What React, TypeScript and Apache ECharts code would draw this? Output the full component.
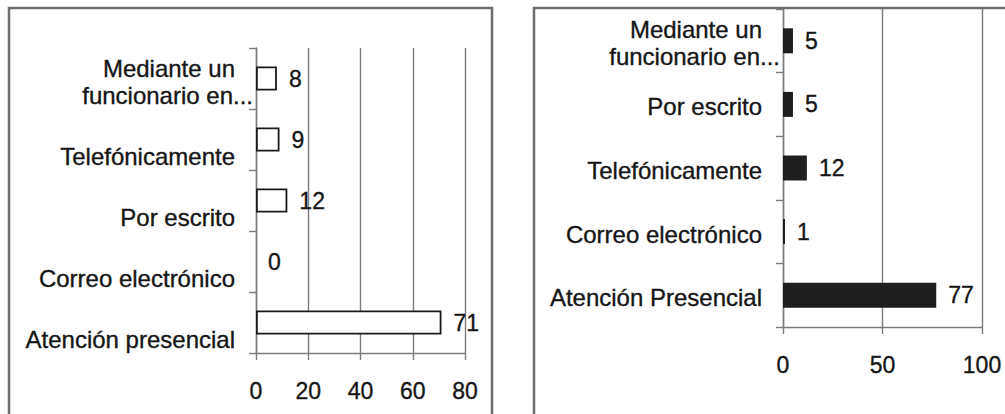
import React, { useEffect, useRef } from 'react';
import * as echarts from 'echarts';

const leftCategories = ['Mediante un\nfuncionario en...', 'Telefónicamente', 'Por escrito', 'Correo electrónico', 'Atención presencial'];
const leftValues = [8, 9, 12, 0, 71];
const leftMax = 80;
const leftInterval = 20;

const rightCategories = ['Mediante un\nfuncionario en...', 'Por escrito', 'Telefónicamente', 'Correo electrónico', 'Atención Presencial'];
const rightValues = [5, 5, 12, 1, 77];
const rightMax = 100;
const rightInterval = 50;

const FONT = '"Liberation Sans", Arial, sans-serif';
const TEXT = '#161616';
const GRID = '#7c7c7c';
const FS = 23;
const CFS = 24;
const HALO = { textBorderColor: TEXT, textBorderWidth: 0.35 };

const richStyles = {
  a: { fontSize: CFS, fontFamily: FONT, color: TEXT, lineHeight: 27, padding: [0, 18, 0, 0], ...HALO },
  b: { fontSize: CFS, fontFamily: FONT, color: TEXT, lineHeight: 27, ...HALO },
};

const catFormatter = (v: string) => {
  const lines = v.split('\n');
  return lines
    .map((line, i) => (lines.length > 1 && i === lines.length - 1 ? `{b|${line}}` : `{a|${line}}`))
    .join('\n');
};

const lineStyle = { color: GRID, width: 1.4 };

export default function App() {
  const ref = useRef<HTMLDivElement>(null);
  useEffect(() => {
    if (!ref.current) return;
    const chart = echarts.init(ref.current, undefined, { renderer: 'svg' });
    const valueLabel = {
      show: true,
      position: 'right',
      distance: 12,
      fontSize: FS,
      fontFamily: FONT,
      color: TEXT,
      ...HALO,
    };
    const tickLabel = { fontSize: FS, fontFamily: FONT, color: TEXT, margin: 26, ...HALO };
    chart.setOption({
      animation: false,
      backgroundColor: '#ffffff',
      textStyle: { fontFamily: FONT },
      grid: [
        { left: 256, top: 48, width: 209, height: 305, containLabel: false },
        { left: 783, top: 9, width: 199, height: 318, containLabel: false },
      ],
      xAxis: [
        {
          type: 'value', gridIndex: 0, min: 0, max: leftMax, interval: leftInterval,
          axisLine: { show: true, lineStyle },
          axisTick: { show: true, length: 7, lineStyle },
          splitLine: { show: true, lineStyle },
          axisLabel: tickLabel,
        },
        {
          type: 'value', gridIndex: 1, min: 0, max: rightMax, interval: rightInterval,
          axisLine: { show: true, lineStyle },
          axisTick: { show: true, length: 7, lineStyle },
          splitLine: { show: true, lineStyle },
          axisLabel: tickLabel,
        },
      ],
      yAxis: [
        {
          type: 'category', gridIndex: 0, inverse: true, data: leftCategories,
          axisLine: { show: true, lineStyle },
          axisTick: { show: true, length: 7, lineStyle },
          axisLabel: { show: false },
          splitLine: { show: false },
        },
        {
          type: 'category', gridIndex: 0, inverse: true, boundaryGap: false,
          position: 'left', offset: 0,
          data: ['', ...leftCategories],
          axisLine: { show: false },
          axisTick: { show: false },
          splitLine: { show: false },
          axisLabel: {
            interval: 0, margin: 3, verticalAlign: 'bottom', align: 'right',
            formatter: catFormatter, rich: richStyles,
          },
        },
        {
          type: 'category', gridIndex: 1, inverse: true, data: rightCategories,
          axisLine: { show: true, lineStyle },
          axisTick: { show: true, length: 7, lineStyle },
          splitLine: { show: false },
          axisLabel: {
            interval: 0, margin: 3, align: 'right', verticalAlign: 'middle',
            padding: [5, 0, 0, 0],
            formatter: catFormatter, rich: richStyles,
          },
        },
      ],
      series: [
        {
          type: 'bar', xAxisIndex: 0, yAxisIndex: 0, barWidth: 24,
          data: leftValues.map((v) => (v === 0 ? { value: v, itemStyle: { borderWidth: 0 } } : v)),
          itemStyle: { color: '#ffffff', borderColor: '#1a1a1a', borderWidth: 1.8 },
          label: valueLabel,
        },
        {
          type: 'bar', xAxisIndex: 1, yAxisIndex: 2, barWidth: 25,
          data: rightValues,
          itemStyle: { color: '#1e1e1e' },
          label: valueLabel,
        },
      ],
      graphic: [
        {
          type: 'rect', silent: true, z: 100,
          shape: { x: 9, y: 8, width: 483, height: 440 },
          style: { fill: 'none', stroke: '#6e6e6e', lineWidth: 2.5 },
        },
        {
          type: 'rect', silent: true, z: 100,
          shape: { x: 534, y: 8, width: 520, height: 440 },
          style: { fill: 'none', stroke: '#6e6e6e', lineWidth: 2.5 },
        },
      ],
    });
    return () => chart.dispose();
  }, []);
  return (
    <div
      ref={ref}
      style={{ position: 'fixed', left: 0, top: 0, width: 1005, height: 414, background: '#fff' }}
    />
  );
}
